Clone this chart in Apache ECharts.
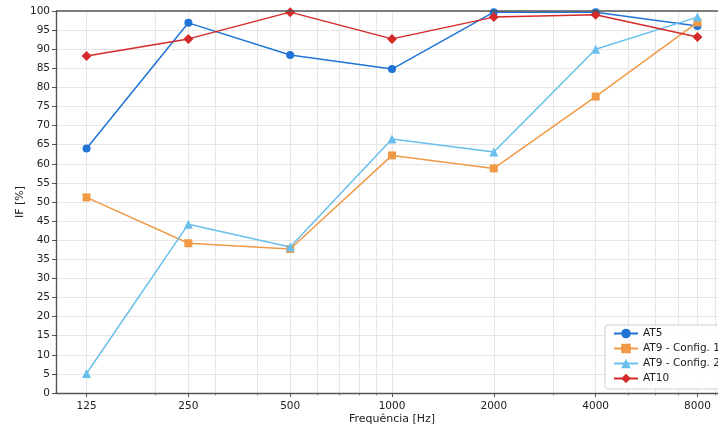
<!DOCTYPE html>
<html>
<head>
<meta charset="utf-8">
<script src="https://cdn.jsdelivr.net/npm/echarts@6/dist/echarts.min.js"></script>
<style>html,body{margin:0;padding:0;background:#fff}#c{width:718px;height:432px}</style>
</head>
<body>
<div id="c"></div>
<script>
const freqs = [125, 250, 500, 1000, 2000, 4000, 8000];
const minorFreqs = [200, 300, 400, 600, 700, 800, 900, 3000, 5000, 6000, 7000, 9000];
const seriesNames = ['AT5', 'AT9 - Config. 1', 'AT9 - Config. 2', 'AT10'];
const at5 = [64.0, 96.9, 88.5, 84.8, 99.7, 99.7, 96.1];
const at9c1 = [51.2, 39.2, 37.7, 62.2, 58.8, 77.6, 97.0];
const at9c2 = [5.1, 44.2, 38.2, 66.5, 63.1, 90.0, 98.4];
const at10 = [88.2, 92.7, 99.7, 92.7, 98.4, 99.0, 93.2];

const lg = f => Math.log2(f);
const xMin = lg(125) - 0.3, xMax = lg(8000) + 0.3;
const font = 'DejaVu Sans';
const gridColor = '#e3e3e3';
const pts = vals => vals.map((v, i) => [lg(freqs[i]), v]);

const colors = ['#1f74d6', '#f09a45', '#68bfec', '#d42a2a'];
const symbols = ['circle', 'rect', 'triangle', 'diamond'];
const sizes = [8, 8, 9, 10];
const allData = [at5, at9c1, at9c2, at10];

const chart = echarts.init(document.getElementById('c'), null, {renderer: 'canvas'});
chart.setOption({
  animation: false,
  backgroundColor: '#fff',
  grid: {left: 56, top: 11, width: 672, bottom: 39, containLabel: false, outerBoundsMode: 'none'},
  xAxis: [{
    type: 'value', min: xMin, max: xMax,
    name: 'Frequência [Hz]', nameLocation: 'middle', nameGap: 21, nameMoveOverlap: false,
    nameTextStyle: {fontFamily: font, fontSize: 11, color: '#222'},
    axisLine: {show: true, onZero: false, lineStyle: {color: '#555', width: 1.4}},
    axisTick: {show: true, inside: false, length: 4, lineStyle: {color: '#555', width: 1}, customValues: freqs.map(lg)},
    axisLabel: {show: true, fontFamily: font, fontSize: 10.5, color: '#222', margin: 8, customValues: freqs.map(lg),
      formatter: v => String(Math.round(Math.pow(2, v)))},
    splitLine: {show: true, lineStyle: {color: gridColor, width: 0.9}}
  }, {
    type: 'value', min: xMin, max: xMax, position: 'bottom', offset: 0,
    axisLine: {show: false},
    axisTick: {show: true, inside: false, length: 2.2, lineStyle: {color: '#555', width: 0.8}, customValues: minorFreqs.map(lg)},
    axisLabel: {show: false},
    splitLine: {show: true, lineStyle: {color: gridColor, width: 0.9}}
  }],
  yAxis: [{
    type: 'value', min: 0, max: 100, interval: 5,
    name: 'IF [%]', nameLocation: 'middle', nameGap: 30, nameRotate: 90, nameMoveOverlap: false,
    nameTextStyle: {fontFamily: font, fontSize: 11, color: '#222'},
    axisLine: {show: true, lineStyle: {color: '#555', width: 1.4}},
    axisTick: {show: true, inside: false, length: 4, lineStyle: {color: '#555', width: 1}},
    axisLabel: {fontFamily: font, fontSize: 10.5, color: '#222', margin: 6},
    splitLine: {show: true, lineStyle: {color: gridColor, width: 0.9}}
  }],
  graphic: [{
    type: 'line', shape: {x1: 56, y1: 11, x2: 718, y2: 11},
    style: {stroke: '#555', lineWidth: 1.4}, z: 10
  }],
  legend: {
    orient: 'vertical', left: 605, top: 325,
    padding: [3, 30, 5, 8], itemGap: 4, itemWidth: 24, itemHeight: 12,
    backgroundColor: 'rgba(255,255,255,0.85)', borderColor: '#cfcfcf', borderWidth: 1, borderRadius: 3,
    textStyle: {fontFamily: font, fontSize: 10.5, color: '#222'},
    data: seriesNames
  },
  series: seriesNames.map((n, i) => ({
    name: n, type: 'line', xAxisIndex: 0, yAxisIndex: 0,
    data: pts(allData[i]),
    symbol: symbols[i], symbolSize: sizes[i], showAllSymbol: true,
    lineStyle: {color: colors[i], width: 1.5},
    itemStyle: {color: colors[i]},
    z: 5 + i
  }))
});
</script>
</body>
</html>
